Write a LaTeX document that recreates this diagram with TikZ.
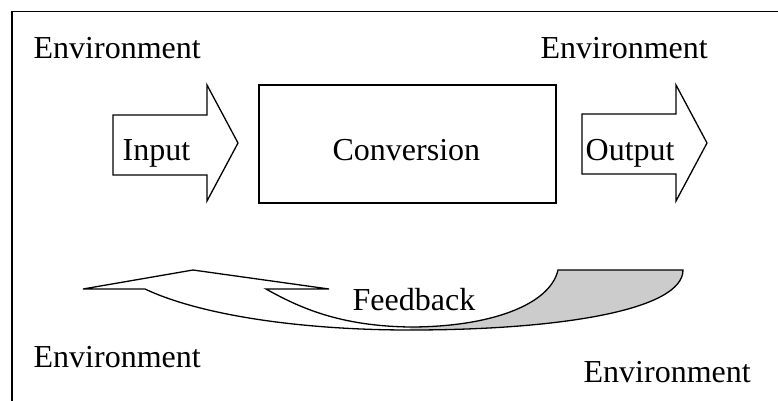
\documentclass[tikz,border=0pt]{standalone}
\usepackage{fontspec}
\setmainfont{Liberation Serif}
\begin{document}
\begin{tikzpicture}[x=1pt,y=-1pt,line width=1.3pt,
  txt/.style={font=\fontsize{32}{38}\selectfont, inner sep=0pt, anchor=base west},
  shp/.style={draw=black, line join=miter}]
\useasboundingbox (0,0) rectangle (778,400);
\clip (0,0) rectangle (778,400);
% outer frame (only top and left visible)
\draw (12,11.7) rectangle (800,420);
% input arrow
\draw[shp] (113,115) -- (207,115) -- (207,85) -- (238,143) -- (207,201) -- (207,175) -- (113,175) -- cycle;
% conversion box
\draw[shp] (259,85) rectangle (556,203);
% output arrow
\draw[shp] (582,114) -- (676,114) -- (676,85) -- (707,143) -- (676,201) -- (676,174) -- (582,174) -- cycle;
% feedback curved arrow
\fill[gray!40] (410,327) .. controls (490,327) and (550,305) .. (558,270) -- (683,270)
  .. controls (683,310) and (560,330) .. (410,330) -- cycle;
\draw[shp] (145,289) -- (83,289) -- (193,270) -- (329,289) -- (266,289)
  .. controls (300,308) and (340,326) .. (410,327)
  .. controls (490,327) and (550,305) .. (558,270) -- (683,270)
  .. controls (683,310) and (560,330) .. (410,330)
  .. controls (300,330) and (200,315) .. (145,289) -- cycle;
% texts
\node[txt] (envtl) at (33,58) {Environment};
\node[txt] (envtr) at (540,58) {Environment};
\node[txt] (input) at (122,160) {Input};
\node[txt] (conv) at (332,160) {Conversion};
\node[txt] (output) at (585,160) {Output};
\node[txt] (feedback) at (352,310) {Feedback};
\node[txt] (envbl) at (33,367) {Environment};
\node[txt] (envbr) at (583,382) {Environment};
\end{tikzpicture}
\end{document}
